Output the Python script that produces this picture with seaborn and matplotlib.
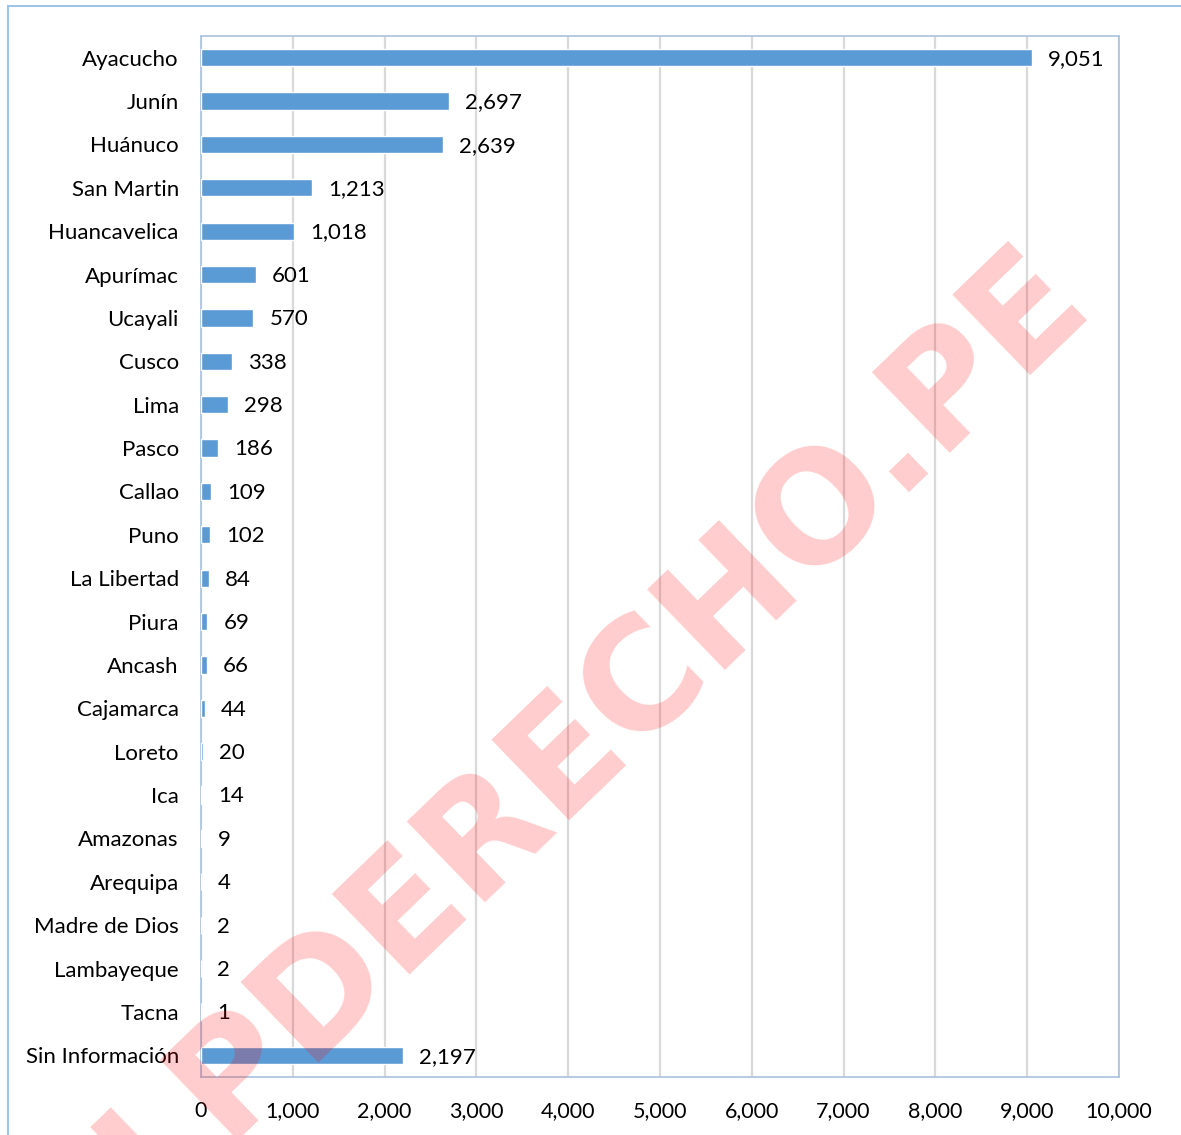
import matplotlib
matplotlib.use('Agg')
import matplotlib.pyplot as plt
import matplotlib.patches as mpatches
import seaborn as sns
import pandas as pd

# Data
regions = ['Ayacucho', 'Junín', 'Huánuco', 'San Martin', 'Huancavelica', 'Apurímac',
           'Ucayali', 'Cusco', 'Lima', 'Pasco', 'Callao', 'Puno', 'La Libertad', 'Piura',
           'Ancash', 'Cajamarca', 'Loreto', 'Ica', 'Amazonas', 'Arequipa', 'Madre de Dios',
           'Lambayeque', 'Tacna', 'Sin Información']
counts = [9051, 2697, 2639, 1213, 1018, 601, 570, 338, 298, 186, 109, 102, 84, 69,
          66, 44, 20, 14, 9, 4, 2, 2, 1, 2197]
x_ticks = [0, 1000, 2000, 3000, 4000, 5000, 6000, 7000, 8000, 9000, 10000]

BAR = '#5B9BD5'
FRAME = '#A9C2DE'

sns.set_theme(style='white')
plt.rcParams['font.family'] = ['Lato', 'DejaVu Sans']

df = pd.DataFrame({'region': regions, 'count': counts})

fig = plt.figure(figsize=(11.81, 11.35), dpi=100)
ax = fig.add_axes([201 / 1181, 1 - 1077 / 1135, 918 / 1181, 1041 / 1135])

sns.barplot(data=df, x='count', y='region', orient='h', color=BAR, width=0.4,
            saturation=1, ax=ax, zorder=3)

ax.set_xlim(0, 10000)
ax.set_xticks(x_ticks)
ax.set_xticklabels([f'{v:,}' for v in x_ticks], fontsize=15.5, color='#000000')
ax.tick_params(axis='x', length=0, pad=17)
ax.tick_params(axis='y', length=0, pad=16, labelsize=16, labelcolor='#000000')
ax.set_xlabel('')
ax.set_ylabel('')
ax.xaxis.grid(True, color='#D9D9D9', linewidth=1.6, zorder=0)
ax.set_axisbelow(True)
for sp in ax.spines.values():
    sp.set_color(FRAME)
    sp.set_linewidth(1.2)

# value labels next to each bar
for i, v in enumerate(counts):
    ax.annotate(f'{v:,}', xy=(v, i), xytext=(11.5, -1), textcoords='offset points',
                ha='left', va='center', fontsize=16, color='#000000')

# outer chart border
fig.patches.append(mpatches.Rectangle((8 / 1181, -0.05), 1.1, 1 - 6 / 1135 + 0.05,
                                      transform=fig.transFigure, fill=False,
                                      edgecolor='#9DC3E6', linewidth=1.5))

# watermark
fig.text(0.503, 0.362, 'LPDERECHO.PE', rotation=44, fontsize=110, fontweight='bold',
         color='red', alpha=0.2, ha='center', va='center', family='DejaVu Sans',
         zorder=10)

fig.savefig('out.png', dpi=100)
